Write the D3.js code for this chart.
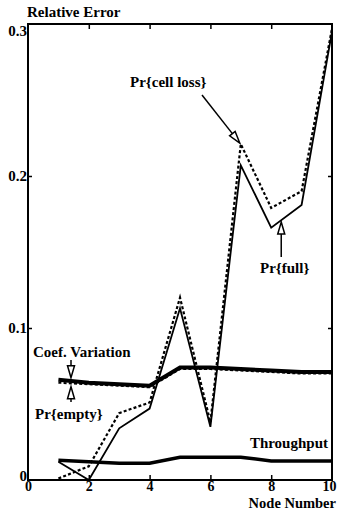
<!DOCTYPE html>
<html>
<head>
<meta charset="utf-8">
<script src="https://cdn.jsdelivr.net/npm/d3@7"></script>
<style>
  body { margin: 0; background: #fff; }
  text { font-family: "Liberation Serif", "DejaVu Serif", serif; font-weight: bold; fill: #000; }
</style>
</head>
<body>
<div id="chart"></div>
<script>
// node numbers on the x axis
var nodes = [1, 2, 3, 4, 5, 6, 7, 8, 9, 10];

// relative error per node
var cellLoss  = [0.001, 0.009, 0.044, 0.051, 0.120, 0.038, 0.221, 0.179, 0.190, 0.297];
var prFull    = [0.012, 0.000, 0.034, 0.047, 0.113, 0.035, 0.207, 0.166, 0.181, 0.295];
var coefVar   = [0.066, 0.064, 0.063, 0.062, 0.074, 0.074, 0.073, 0.072, 0.071, 0.071];
var prEmpty   = [0.064, 0.063, 0.062, 0.061, 0.073, 0.073, 0.072, 0.071, 0.070, 0.070];
var throughput = [0.013, 0.012, 0.011, 0.011, 0.015, 0.015, 0.015, 0.0125, 0.0125, 0.0125];

var xTicks = [0, 2, 4, 6, 8, 10];
var yTicks = [0, 0.1, 0.2, 0.3];

var W = 337, H = 511;
var plotL = 28, plotR = 332, plotT = 24, plotB = 480;
var fs = 15;

var svg = d3.select("#chart").append("svg")
  .attr("width", W)
  .attr("height", H);

var x = d3.scaleLinear().domain([0, 10]).range([plotL, plotR]);
var y = d3.scaleLinear().domain([0, 0.3]).range([plotB, plotT]);

// frame
svg.append("rect")
  .attr("x", plotL).attr("y", plotT)
  .attr("width", plotR - plotL).attr("height", plotB - plotT)
  .attr("fill", "none").attr("stroke", "#000").attr("stroke-width", 2);

// axes with inward ticks
var xAxis = svg.append("g")
  .attr("transform", "translate(0," + plotB + ")")
  .call(d3.axisBottom(x).tickValues(xTicks).tickSize(-5).tickPadding(1.5));
var xTop = svg.append("g")
  .attr("transform", "translate(0," + plotT + ")")
  .call(d3.axisTop(x).tickValues([2, 4, 6, 8]).tickSize(-5).tickFormat(""));
var yAxis = svg.append("g")
  .attr("transform", "translate(" + plotL + ",0)")
  .call(d3.axisLeft(y).tickValues(yTicks).tickSize(-4).tickPadding(1)
    .tickFormat(function(d) { return d === 0 ? "0" : d3.format(".1f")(d); }));
var yRight = svg.append("g")
  .attr("transform", "translate(" + plotR + ",0)")
  .call(d3.axisRight(y).tickValues([0.1, 0.2]).tickSize(-4).tickFormat(""));

[xAxis, xTop, yAxis, yRight].forEach(function(g) {
  g.select(".domain").remove();
  g.selectAll(".tick line").attr("stroke", "#000").attr("stroke-width", 1.5);
  g.selectAll("text").attr("font-size", fs)
    .attr("font-family", "Liberation Serif, serif").attr("font-weight", "bold");
});
xAxis.selectAll("text").attr("font-size", 14);
xAxis.selectAll(".tick").filter(function(d) { return d === 0 || d === 10; }).select("line").remove();
xAxis.selectAll(".tick").filter(function(d) { return d === 10; }).select("text")
  .attr("text-anchor", "end").attr("x", 4);
yAxis.selectAll(".tick").filter(function(d) { return d === 0 || d === 0.3; }).select("line").remove();
yAxis.selectAll(".tick").filter(function(d) { return d === 0; }).select("text").attr("dy", "0.05em");
yAxis.selectAll(".tick").filter(function(d) { return d === 0.3; }).select("text").attr("dy", "0.75em");

var line = d3.line()
  .x(function(d) { return x(d[0]); })
  .y(function(d) { return y(d[1]); });

function series(vals) {
  return nodes.map(function(n, i) { return [n, vals[i]]; });
}

function drawLine(vals, width, dash) {
  svg.append("path")
    .datum(series(vals))
    .attr("d", line)
    .attr("fill", "none")
    .attr("stroke", "#000")
    .attr("stroke-width", width)
    .attr("stroke-linejoin", "miter")
    .attr("stroke-dasharray", dash || null);
}

drawLine(prEmpty, 2, "3,2.2");
drawLine(coefVar, 4);
drawLine(throughput, 3.5);
drawLine(cellLoss, 2.2, "3,2.2");
drawLine(prFull, 1.8);

// open triangle arrow, tip at (tx,ty) coming from (fx,fy)
function arrow(fx, fy, tx, ty) {
  var dx = tx - fx, dy = ty - fy;
  var len = Math.sqrt(dx * dx + dy * dy);
  var ux = dx / len, uy = dy / len;
  var hl = 12, hw = 3.5;
  var bx = tx - ux * hl, by = ty - uy * hl;
  svg.append("line")
    .attr("x1", fx).attr("y1", fy).attr("x2", bx).attr("y2", by)
    .attr("stroke", "#000").attr("stroke-width", 1.5);
  svg.append("path")
    .attr("d", "M" + tx + "," + ty +
      "L" + (bx - uy * hw) + "," + (by + ux * hw) +
      "L" + (bx + uy * hw) + "," + (by - ux * hw) + "Z")
    .attr("fill", "#fff").attr("stroke", "#000").attr("stroke-width", 1.5);
}

function label(txt, px, py, anchor, size) {
  svg.append("text")
    .attr("x", px).attr("y", py)
    .attr("font-size", size || fs)
    .attr("text-anchor", anchor || "start")
    .text(txt);
}

// annotations
label("Relative Error", plotL - 1, 17);
label("Node Number", 336, 507.5, "end", 14.5);

label("Pr{cell loss}", 130, 87);
arrow(202, 95, x(7) - 1, y(0.221) - 1);

label("Pr{full}", 260, 273);
arrow(x(8.33), 257, x(8.33), y(0.171) + 2);

label("Coef. Variation", 33, 357);
arrow(71, 360, 71, y(0.066) - 2);
arrow(71, 402, 71, y(0.062) + 1);
label("Pr{empty}", 35, 419);

label("Throughput", 328, 448, "end");
</script>
</body>
</html>
